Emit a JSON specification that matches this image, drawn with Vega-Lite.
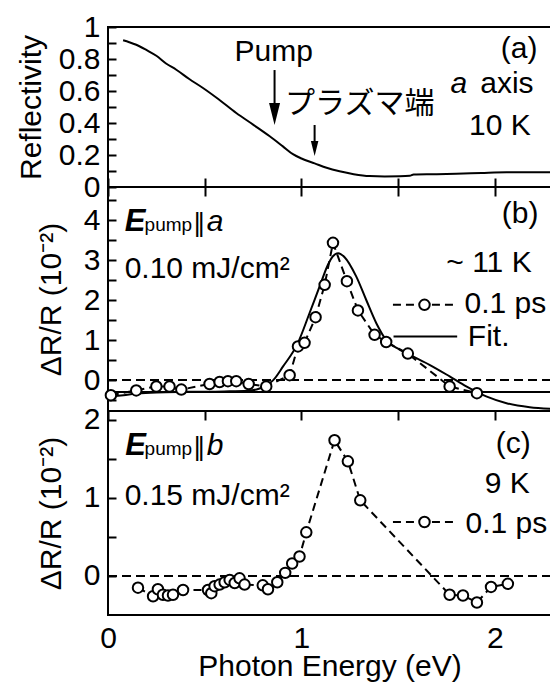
{
  "$schema": "https://vega.github.io/schema/vega-lite/v6.json",
  "padding": {"left": 15, "top": 11, "right": 2, "bottom": 0},
  "spacing": 0,
  "bounds": "flush",
  "datasets": {
    "refl": [
      {"x":0.078,"y":0.917},{"x":0.11,"y":0.905},{"x":0.146,"y":0.889},{"x":0.2,"y":0.855},{"x":0.25,"y":0.82},
      {"x":0.3,"y":0.772},{"x":0.353,"y":0.733},{"x":0.42,"y":0.675},{"x":0.491,"y":0.619},{"x":0.57,"y":0.55},
      {"x":0.663,"y":0.4625},{"x":0.75,"y":0.39},{"x":0.836,"y":0.317},{"x":0.904,"y":0.254},{"x":0.956,"y":0.205},
      {"x":1.0,"y":0.178},{"x":1.068,"y":0.148},{"x":1.13,"y":0.12},{"x":1.197,"y":0.098},{"x":1.27,"y":0.08},
      {"x":1.352,"y":0.068},{"x":1.43,"y":0.066},{"x":1.507,"y":0.067},{"x":1.56,"y":0.07},{"x":1.58,"y":0.078},
      {"x":1.7,"y":0.08},{"x":1.8,"y":0.083},{"x":1.93,"y":0.088},{"x":2.06,"y":0.092},{"x":2.29,"y":0.092}
    ],
    "bfit": [
      {"x":0,"y":-0.42},{"x":0.08,"y":-0.38},{"x":0.15,"y":-0.34},{"x":0.25,"y":-0.31},{"x":0.4,"y":-0.295},
      {"x":0.6,"y":-0.285},{"x":0.72,"y":-0.27},{"x":0.78,"y":-0.22},{"x":0.82,"y":-0.13},{"x":0.853,"y":-0.01},
      {"x":0.905,"y":0.34},{"x":0.982,"y":0.93},{"x":1.042,"y":1.675},{"x":1.094,"y":2.34},{"x":1.137,"y":2.88},
      {"x":1.16,"y":3.08},{"x":1.19,"y":3.17},{"x":1.223,"y":3.07},{"x":1.283,"y":2.59},{"x":1.335,"y":2.0},
      {"x":1.387,"y":1.42},{"x":1.438,"y":1.0},{"x":1.507,"y":0.76},{"x":1.576,"y":0.59},{"x":1.662,"y":0.38},
      {"x":1.766,"y":0.09},{"x":1.852,"y":-0.16},{"x":1.955,"y":-0.41},{"x":2.06,"y":-0.58},{"x":2.18,"y":-0.68},
      {"x":2.29,"y":-0.72}
    ],
    "bdat": [
      {"x":0.015,"y":-0.38},{"x":0.146,"y":-0.26},{"x":0.25,"y":-0.16},{"x":0.318,"y":-0.16},{"x":0.379,"y":-0.24},
      {"x":0.525,"y":-0.1},{"x":0.577,"y":-0.05},{"x":0.62,"y":-0.03},{"x":0.663,"y":-0.03},{"x":0.727,"y":-0.1},
      {"x":0.818,"y":-0.16},{"x":0.939,"y":0.12},{"x":0.982,"y":0.84},{"x":1.016,"y":0.93},{"x":1.073,"y":1.57},
      {"x":1.12,"y":2.38},{"x":1.163,"y":3.43},{"x":1.235,"y":2.47},{"x":1.292,"y":1.74},{"x":1.378,"y":1.13},
      {"x":1.438,"y":0.95},{"x":1.55,"y":0.66},{"x":1.766,"y":-0.16},{"x":1.907,"y":-0.33}
    ],
    "cdat": [
      {"x":0.155,"y":-0.15},{"x":0.233,"y":-0.26},{"x":0.258,"y":-0.17},{"x":0.284,"y":-0.24},{"x":0.31,"y":-0.25},
      {"x":0.336,"y":-0.24},{"x":0.388,"y":-0.18},{"x":0.517,"y":-0.18},{"x":0.534,"y":-0.22},{"x":0.551,"y":-0.13},
      {"x":0.577,"y":-0.11},{"x":0.603,"y":-0.08},{"x":0.629,"y":-0.05},{"x":0.655,"y":-0.09},{"x":0.68,"y":-0.03},
      {"x":0.706,"y":-0.11},{"x":0.8,"y":-0.12},{"x":0.827,"y":-0.17},{"x":0.875,"y":-0.08},{"x":0.916,"y":0.04},
      {"x":0.952,"y":0.16},{"x":0.99,"y":0.25},{"x":1.025,"y":0.56},{"x":1.171,"y":1.74},{"x":1.24,"y":1.47},
      {"x":1.304,"y":0.97},{"x":1.766,"y":-0.24},{"x":1.835,"y":-0.25},{"x":1.907,"y":-0.34},{"x":1.98,"y":-0.14},
      {"x":2.067,"y":-0.1}
    ],
    "one": [{"k":0}]
  },
  "vconcat": [
    {
      "width": 443, "height": 160,
      "encoding": {
        "x": {"type":"quantitative","title":null,"scale":{"domain":[0,2.29],"nice":false,"zero":false},
              "axis":{"values":[0,0.5,1,1.5,2],"labels":false,"ticks":true,"tickSize":9,"offset":-9,"tickWidth":2,"tickColor":"black","tickOpacity":1,"zindex":1,"labelOverlap":false,"domain":false,"grid":false}},
        "y": {"type":"quantitative","title":"Reflectivity","scale":{"domain":[0,1],"nice":false,"zero":false},
              "axis":{"values":[0,0.1,0.2,0.3,0.4,0.5,0.6,0.7,0.8,0.9,1],"titlePadding":12,"ticks":true,"tickSize":8,"offset":-8,"tickWidth":2,"tickColor":"black","tickOpacity":1,"zindex":1,"labelOverlap":false,"labelPadding":8,"domain":false,"grid":false,
                      "labelExpr":"round(datum.value*10) % 2 == 1 ? '' : ((datum.value == 0 || datum.value == 1) ? format(datum.value, 'd') : format(datum.value, '.1f'))"}}
      },
      "layer": [
        {"data":{"name":"refl"},"mark":{"type":"line","color":"black","strokeWidth":2,"interpolate":"monotone","clip":true},
         "encoding":{"x":{"field":"x"},"y":{"field":"y"}}},
        {"data":{"name":"one"},"mark":{"type":"rule","color":"black","strokeWidth":2},
         "encoding":{"x":{"datum":0.861},"y":{"datum":0.731},"y2":{"datum":0.49}}},
        {"data":{"name":"one"},"mark":{"type":"point","shape":"M-0.5,-1L0.5,-1L0,1Z","size":484,"filled":true,"fill":"black","strokeWidth":0,"opacity":1},
         "encoding":{"x":{"datum":0.861},"y":{"datum":0.456}}},
        {"data":{"name":"one"},"mark":{"type":"rule","color":"black","strokeWidth":2},
         "encoding":{"x":{"datum":1.068},"y":{"datum":0.3875},"y2":{"datum":0.275}}},
        {"data":{"name":"one"},"mark":{"type":"point","shape":"M-0.5,-1L0.5,-1L0,1Z","size":225,"filled":true,"fill":"black","strokeWidth":0,"opacity":1},
         "encoding":{"x":{"datum":1.068},"y":{"datum":0.24}}},
        {"data":{"name":"one"},"mark":{"type":"text","align":"center","baseline":"alphabetic","font":"Liberation Sans","fontSize":30,"color":"black"},
         "encoding":{"x":{"datum":0.857},"y":{"datum":0.786},"text":{"value":"Pump"}}},
        {"data":{"name":"one"},"mark":{"type":"text","align":"left","baseline":"middle","font":"Noto Sans CJK JP","fontSize":30,"color":"black"},
         "encoding":{"x":{"datum":0.915},"y":{"datum":0.516},"text":{"value":"プラズマ端"}}},
        {"data":{"name":"one"},"mark":{"type":"text","align":"right","baseline":"alphabetic","font":"Liberation Sans","fontSize":30,"color":"black"},
         "encoding":{"x":{"datum":2.22},"y":{"datum":0.806},"text":{"value":"(a)"}}},
        {"data":{"name":"one"},"mark":{"type":"text","align":"left","baseline":"alphabetic","font":"Liberation Sans","fontSize":30,"fontStyle":"italic","color":"black"},
         "encoding":{"x":{"datum":1.77},"y":{"datum":0.5875},"text":{"value":"a"}}},
        {"data":{"name":"one"},"mark":{"type":"text","align":"right","baseline":"alphabetic","font":"Liberation Sans","fontSize":30,"color":"black"},
         "encoding":{"x":{"datum":2.2},"y":{"datum":0.5875},"text":{"value":"axis"}}},
        {"data":{"name":"one"},"mark":{"type":"text","align":"right","baseline":"alphabetic","font":"Liberation Sans","fontSize":30,"color":"black"},
         "encoding":{"x":{"datum":2.185},"y":{"datum":0.327},"text":{"value":"10 K"}}}
      ]
    },
    {
      "width": 443, "height": 224,
      "encoding": {
        "x": {"type":"quantitative","title":null,"scale":{"domain":[0,2.29],"nice":false,"zero":false},
              "axis":{"values":[0,0.5,1,1.5,2],"labels":false,"ticks":false,"offset":0,"labelOverlap":false,"domain":false,
                      "grid":true,"gridColor":"black","gridWidth":2,"gridOpacity":1,"gridDash":[9,2000]}},
        "y": {"type":"quantitative","title":"ΔR/R (10⁻²)","scale":{"domain":[-0.775,4.825],"nice":false,"zero":false},
              "axis":{"values":[-0.5,0,0.5,1,1.5,2,2.5,3,3.5,4,4.5],"titlePadding":17,"ticks":false,"offset":0,"labelOverlap":false,"labelPadding":8,"domain":false,
                      "grid":true,"gridColor":"black","gridWidth":2,"gridOpacity":1,"gridDash":[8,2000],
                      "labelExpr":"(datum.value % 1 != 0 || datum.value < 0) ? '' : format(datum.value, 'd')"}}
      },
      "layer": [
        {"data":{"name":"bfit"},"mark":{"type":"line","color":"black","strokeWidth":2,"interpolate":"monotone","clip":true},
         "encoding":{"x":{"field":"x"},"y":{"field":"y"}}},
        {"data":{"name":"one"},"mark":{"type":"rule","color":"black","strokeWidth":2,"strokeDash":[9,5]},
         "encoding":{"x":{"datum":0},"x2":{"datum":2.29},"y":{"datum":0}}},
        {"data":{"name":"one"},"mark":{"type":"rule","color":"black","strokeWidth":2},
         "encoding":{"x":{"datum":0},"x2":{"datum":2.29},"y":{"datum":-0.3}}},
        {"data":{"name":"bdat"},"mark":{"type":"line","color":"black","strokeWidth":2,"strokeDash":[8,5],"clip":true},
         "encoding":{"x":{"field":"x"},"y":{"field":"y"}}},
        {"data":{"name":"bdat"},"mark":{"type":"point","shape":"circle","size":110,"filled":true,"fill":"white","stroke":"black","strokeWidth":2,"opacity":1},
         "encoding":{"x":{"field":"x"},"y":{"field":"y"}}},
        {"data":{"name":"one"},"mark":{"type":"rule","color":"black","strokeWidth":2,"strokeDash":[8,5]},
         "encoding":{"x":{"datum":1.473},"x2":{"datum":1.809},"y":{"datum":1.88}}},
        {"data":{"name":"one"},"mark":{"type":"point","shape":"circle","size":110,"filled":true,"fill":"white","stroke":"black","strokeWidth":2,"opacity":1},
         "encoding":{"x":{"datum":1.636},"y":{"datum":1.88}}},
        {"data":{"name":"one"},"mark":{"type":"rule","color":"black","strokeWidth":2},
         "encoding":{"x":{"datum":1.476},"x2":{"datum":1.805},"y":{"datum":1.09}}},
        {"data":{"name":"one"},"mark":{"type":"text","align":"left","baseline":"alphabetic","font":"Liberation Sans","fontSize":31,"fontStyle":"italic","fontWeight":"bold","color":"black"},
         "encoding":{"x":{"datum":0.086},"y":{"datum":3.725},"text":{"value":"E"}}},
        {"data":{"name":"one"},"mark":{"type":"text","align":"left","baseline":"alphabetic","font":"Liberation Sans","fontSize":19,"color":"black"},
         "encoding":{"x":{"datum":0.189},"y":{"datum":3.72},"text":{"value":"pump"}}},
        {"data":{"name":"one"},"mark":{"type":"text","align":"center","baseline":"alphabetic","font":"DejaVu Sans","fontSize":25,"color":"black"},
         "encoding":{"x":{"datum":0.472},"y":{"datum":3.725},"text":{"value":"‖"}}},
        {"data":{"name":"one"},"mark":{"type":"text","align":"left","baseline":"alphabetic","font":"Liberation Sans","fontSize":30,"fontStyle":"italic","color":"black"},
         "encoding":{"x":{"datum":0.51},"y":{"datum":3.725},"text":{"value":"a"}}},
        {"data":{"name":"one"},"mark":{"type":"text","align":"left","baseline":"alphabetic","font":"Liberation Sans","fontSize":30,"color":"black"},
         "encoding":{"x":{"datum":0.086},"y":{"datum":2.55},"text":{"value":"0.10 mJ/cm²"}}},
        {"data":{"name":"one"},"mark":{"type":"text","align":"right","baseline":"alphabetic","font":"Liberation Sans","fontSize":30,"color":"black"},
         "encoding":{"x":{"datum":2.225},"y":{"datum":3.925},"text":{"value":"(b)"}}},
        {"data":{"name":"one"},"mark":{"type":"text","align":"right","baseline":"alphabetic","font":"Liberation Sans","fontSize":30,"color":"black"},
         "encoding":{"x":{"datum":2.19},"y":{"datum":2.7},"text":{"value":"~ 11 K"}}},
        {"data":{"name":"one"},"mark":{"type":"text","align":"left","baseline":"alphabetic","font":"Liberation Sans","fontSize":30,"color":"black"},
         "encoding":{"x":{"datum":1.843},"y":{"datum":1.675},"text":{"value":"0.1 ps"}}},
        {"data":{"name":"one"},"mark":{"type":"text","align":"left","baseline":"alphabetic","font":"Liberation Sans","fontSize":30,"color":"black"},
         "encoding":{"x":{"datum":1.86},"y":{"datum":0.84},"text":{"value":"Fit."}}}
      ]
    },
    {
      "width": 443, "height": 204,
      "encoding": {
        "x": {"type":"quantitative","title":"Photon Energy (eV)","scale":{"domain":[0,2.29],"nice":false,"zero":false},
              "axis":{"values":[0,0.5,1,1.5,2],"labelFlush":false,"titlePadding":-2,"labelPadding":8,"ticks":false,"offset":0,"labelOverlap":false,"domain":false,
                      "grid":true,"gridColor":"black","gridWidth":2,"gridOpacity":1,"gridDash":[9,2000],
                      "labelExpr":"datum.value % 1 != 0 ? '' : format(datum.value, 'd')"}},
        "y": {"type":"quantitative","title":"ΔR/R (10⁻²)","scale":{"domain":[-0.5,2.115],"nice":false,"zero":false},
              "axis":{"values":[0,0.5,1,1.5,2],"titlePadding":17,"ticks":false,"offset":0,"labelOverlap":false,"labelPadding":8,"domain":false,
                      "grid":true,"gridColor":"black","gridWidth":2,"gridOpacity":1,"gridDash":[8,2000],
                      "labelExpr":"datum.value % 1 != 0 ? '' : format(datum.value, 'd')"}}
      },
      "layer": [
        {"data":{"name":"one"},"mark":{"type":"rule","color":"black","strokeWidth":2,"strokeDash":[9,5]},
         "encoding":{"x":{"datum":0},"x2":{"datum":2.29},"y":{"datum":0}}},
        {"data":{"name":"cdat"},"mark":{"type":"line","color":"black","strokeWidth":2,"strokeDash":[8,5],"clip":true},
         "encoding":{"x":{"field":"x"},"y":{"field":"y"}}},
        {"data":{"name":"cdat"},"mark":{"type":"point","shape":"circle","size":110,"filled":true,"fill":"white","stroke":"black","strokeWidth":2,"opacity":1},
         "encoding":{"x":{"field":"x"},"y":{"field":"y"}}},
        {"data":{"name":"one"},"mark":{"type":"rule","color":"black","strokeWidth":2,"strokeDash":[8,5]},
         "encoding":{"x":{"datum":1.473},"x2":{"datum":1.809},"y":{"datum":0.692}}},
        {"data":{"name":"one"},"mark":{"type":"point","shape":"circle","size":110,"filled":true,"fill":"white","stroke":"black","strokeWidth":2,"opacity":1},
         "encoding":{"x":{"datum":1.636},"y":{"datum":0.692}}},
        {"data":{"name":"one"},"mark":{"type":"text","align":"left","baseline":"alphabetic","font":"Liberation Sans","fontSize":31,"fontStyle":"italic","fontWeight":"bold","color":"black"},
         "encoding":{"x":{"datum":0.089},"y":{"datum":1.555},"text":{"value":"E"}}},
        {"data":{"name":"one"},"mark":{"type":"text","align":"left","baseline":"alphabetic","font":"Liberation Sans","fontSize":19,"color":"black"},
         "encoding":{"x":{"datum":0.189},"y":{"datum":1.55},"text":{"value":"pump"}}},
        {"data":{"name":"one"},"mark":{"type":"text","align":"center","baseline":"alphabetic","font":"DejaVu Sans","fontSize":25,"color":"black"},
         "encoding":{"x":{"datum":0.472},"y":{"datum":1.555},"text":{"value":"‖"}}},
        {"data":{"name":"one"},"mark":{"type":"text","align":"left","baseline":"alphabetic","font":"Liberation Sans","fontSize":30,"fontStyle":"italic","color":"black"},
         "encoding":{"x":{"datum":0.51},"y":{"datum":1.555},"text":{"value":"b"}}},
        {"data":{"name":"one"},"mark":{"type":"text","align":"left","baseline":"alphabetic","font":"Liberation Sans","fontSize":30,"color":"black"},
         "encoding":{"x":{"datum":0.086},"y":{"datum":0.914},"text":{"value":"0.15 mJ/cm²"}}},
        {"data":{"name":"one"},"mark":{"type":"text","align":"right","baseline":"alphabetic","font":"Liberation Sans","fontSize":30,"color":"black"},
         "encoding":{"x":{"datum":2.185},"y":{"datum":1.577},"text":{"value":"(c)"}}},
        {"data":{"name":"one"},"mark":{"type":"text","align":"right","baseline":"alphabetic","font":"Liberation Sans","fontSize":30,"color":"black"},
         "encoding":{"x":{"datum":2.18},"y":{"datum":1.064},"text":{"value":"9 K"}}},
        {"data":{"name":"one"},"mark":{"type":"text","align":"left","baseline":"alphabetic","font":"Liberation Sans","fontSize":30,"color":"black"},
         "encoding":{"x":{"datum":1.848},"y":{"datum":0.551},"text":{"value":"0.1 ps"}}}
      ]
    }
  ],
  "config": {
    "view": {"stroke": "black", "strokeWidth": 2},
    "axis": {
      "domain": false, "grid": false, "ticks": true,
      "tickColor": "black", "tickWidth": 2, "tickOpacity": 1,
      "labelFont": "Liberation Sans", "labelFontSize": 30, "labelColor": "black", "labelPadding": 8, "labelOverlap": false,
      "titleFont": "Liberation Sans", "titleFontSize": 30, "titleFontWeight": "normal", "titleColor": "black"
    }
  }
}
